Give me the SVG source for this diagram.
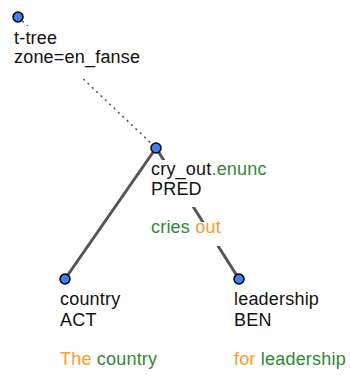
<svg xmlns="http://www.w3.org/2000/svg" width="350" height="382" viewBox="0 0 350 382">
  <style>
    .edge { stroke: #555555; stroke-width: 3; stroke-linecap: round; fill: none; }
    .root-edge { stroke: #555555; stroke-width: 1.6; stroke-dasharray: 2 4; fill: none; }
    .node { fill: #3f7fef; stroke: #000000; stroke-width: 1.5; }
    .bg { fill: #ffffff; }
    text { font-family: "Liberation Sans", Arial, sans-serif; font-size: 18px; letter-spacing: 0.2px; fill: #111111; }
    .fn { fill: #2e8b2e; }
    .word { fill: #ff9a2e; }
  </style>
  <rect width="350" height="382" fill="#ffffff"/>

  <!-- connectors -->
  <g id="connectors">
    <line class="root-edge" x1="18" y1="17" x2="156" y2="148"/>
    <line class="edge" x1="156" y1="148" x2="65" y2="279"/>
    <line class="edge" x1="156" y1="148" x2="239" y2="279"/>
  </g>

  <!-- tree root -->
  <g id="t-tree">
    <rect class="bg" x="12" y="26" width="132" height="52"/>
    <circle class="node" cx="18" cy="17" r="5"/>
    <text x="14" y="44">t-tree</text>
    <text x="14" y="63">zone=en_fanse</text>
  </g>

  <!-- predicate -->
  <g id="cry_out">
    <rect class="bg" x="150" y="160" width="100" height="47"/>
    <rect class="bg" x="150" y="222" width="100" height="24"/>
    <circle class="node" cx="156" cy="148" r="5"/>
    <text x="151" y="175">cry_out<tspan class="fn">.enunc</tspan></text>
    <text x="151" y="195">PRED</text>
    <text x="151" y="233"><tspan class="fn">cries </tspan><tspan class="word">out</tspan></text>
  </g>

  <!-- actor -->
  <g id="country">
    <circle class="node" cx="65" cy="279" r="5"/>
    <text x="60" y="305">country</text>
    <text x="60" y="326">ACT</text>
    <text x="60" y="365"><tspan class="word">The </tspan><tspan class="fn">country</tspan></text>
  </g>

  <!-- beneficiary -->
  <g id="leadership">
    <circle class="node" cx="239" cy="279" r="5"/>
    <text x="234" y="305">leadership</text>
    <text x="234" y="326">BEN</text>
    <text x="234" y="365"><tspan class="word">for </tspan><tspan class="fn">leadership</tspan></text>
  </g>
</svg>
